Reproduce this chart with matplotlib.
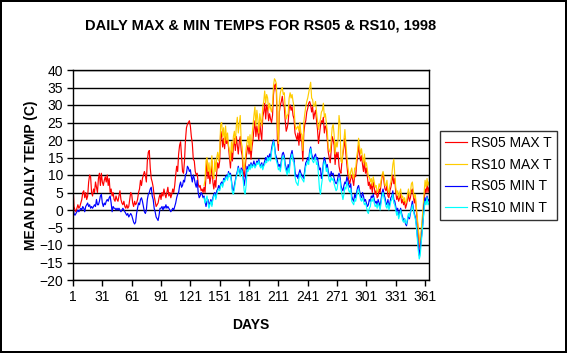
import numpy as np
import matplotlib
matplotlib.use("Agg")
import matplotlib.pyplot as plt

plt.rcParams['font.family'] = ['Liberation Sans', 'DejaVu Sans']

# ---------------- data ----------------
rs05_max = [
    7.5, 1, 0, -0.5, 0.5, 1.5, 0.5, 1, 2, 3,
    5, 5.5, 3.5, 5, 3, 4, 8, 10, 9.5, 5,
    4, 6, 5, 8, 6.5, 5, 9, 10.5, 7, 10.5,
    8, 7, 8.5, 9.5, 8, 10, 7, 9, 5, 6,
    4, 5, 3, 2.5, 4, 3, 2.5, 4, 5.5, 3,
    2, 1.5, 2.5, 1, 0.5, 1.5, 0.5, 1, 3, 5,
    4.5, 2, 1, 2.5, 1.5, 2, 3, 5, 6, 8.5,
    7, 9, 10, 11, 10, 8, 14, 16.5, 17, 12,
    9, 8, 6.5, 4, 2.5, 1, 1.5, 2, 3.5, 4.5,
    3, 5, 4, 6, 4.5, 3.5, 5, 6.5, 4, 5,
    3.5, 4.5, 6, 5, 7, 10, 12.5, 11, 16, 18.5,
    19.5, 15, 11, 10.5, 14, 20, 23.5, 24.5, 25, 25.5,
    24, 21, 19, 14.5, 14, 11, 10, 10.5, 7.5, 6.5,
    7, 5.5, 6, 5, 6.5, 5, 10, 14, 9, 11,
    7.5, 9.5, 14, 8, 6, 8.5, 6.5, 11, 13.5, 12,
    14, 22.5, 21, 18, 20.5, 17.5, 21, 19, 20, 18,
    15, 12, 17, 14, 18, 20.5, 17, 21, 18.5, 16,
    19.5, 21, 17, 15.5, 11, 9.5, 12, 15, 17, 18.5,
    16, 19, 14.5, 18, 20, 23, 25.5, 21, 24, 22,
    20, 25, 22, 20, 26.5, 28, 30.5, 26, 30, 29,
    25.5, 27.5, 26, 25, 27, 33, 35.5, 36, 33.5, 20,
    17, 28, 30, 31, 32.5, 30, 29.5, 25.5, 22.5, 23.5,
    25, 29, 30, 28.5, 29.5, 27, 26, 22, 21, 20,
    22, 18.5, 23, 20, 19.5, 14, 22, 24.5, 25.5, 28,
    29, 30.5, 31, 30, 28, 29.5, 26, 27.5, 28.5, 25.5,
    23, 19, 21.5, 24, 25.5, 25, 26.5, 22, 24, 23.5,
    20, 16.5, 15, 13.5, 17, 21, 20, 18.5, 13, 16.5,
    15, 16.5, 12.5, 11, 10.5, 14, 16, 18, 20.5, 16,
    13, 10, 8.5, 7.5, 9, 10, 8.5, 7, 10, 9.5,
    13, 15.5, 18.5, 16, 14, 15.5, 13, 11, 14, 10.5,
    12, 9.5, 7, 8, 6, 7.5, 5, 8, 6.5, 4.5,
    5.5, 3.5, 4, 6, 5, 7.5, 9.5, 10.5, 8, 6,
    5.5, 7, 4, 3.5, 5.5, 6.5, 8, 10, 7.5, 9,
    5, 3, 4, 2.5, 3.5, 4.5, 2, 3, 1.5, 2.5,
    0.5, 1.5, 3, 4.5, 2.5, 3.5, 5.5, 6, 4, 2,
    3.5, 0, -3, -6, -9.5, -11, -7, -4, -1, 2.5,
    6, 5, 7.5, 5, 6.5,
]

rs05_min = [
    1, -1, -1.5, -1, -0.5, 0, -0.5, 0, 0.5, 0,
    1, 0.5, -0.5, 1, 1.5, 2, 1, 1.5, 0.5, 1,
    0.5, 1, 1.5, 1, 3, 1.5, 1.5, 2.5, 4, 4.5,
    2, 1, 2, 1.5, 2.5, 3, 2.5, 3.5, 4, 2,
    -0.5, 1, 0.5, 0.5, 0, 0.5, 0, 0.5, 0, -0.5,
    0, 0.5, 0, -0.5, -1, -1.5, -1, -2, -1.5, -1,
    -1.5, -2.5, -3.5, -4, -3.5, -1, 0.5, 2, 1.5, 3,
    3.5, 2.5, 1, -0.5, -1, 0, 3, 4.5, 5, 6,
    6.5, 4, 3, 0.5, -0.5, -2, -2.5, -3, -1.5, 0.5,
    0.5, 1, 0, 1, 0.5, 1.5, 0.5, 1, 0.5, 0,
    -0.5, 0, 0.5, 0, 1, 2, 3.5, 4.5, 5, 7,
    8, 6.5, 7, 8.5, 8, 10, 10.5, 12.5, 12, 11,
    11.5, 9.5, 8, 10, 9, 7.5, 6.5, 8.5, 5, 3.5,
    4, 5, 4.5, 3.5, 4, 2.5, 1, 2.5, 3, 1.5,
    2, 3, 1.5, 3.5, 4.5, 5, 3.5, 5.5, 6, 7,
    6, 7.5, 8, 7, 9, 8.5, 9.5, 10, 9, 11,
    10, 10.5, 8.5, 6, 5.5, 7, 8.5, 10, 11, 12.5,
    11, 10, 12, 11.5, 9.5, 7, 9, 10.5, 12.5, 11.5,
    13, 12, 13.5, 12.5, 13, 14, 12.5, 13, 14, 13.5,
    14.5, 13, 12.5, 13.5, 12, 13, 14, 15, 14, 15.5,
    14.5, 16, 15, 17.5, 19, 20, 18.5, 16, 15, 14,
    12.5, 13, 12, 14, 16, 16.5, 15.5, 13, 12, 11,
    13, 11.5, 14.5, 16, 17, 15, 14.5, 11, 9.5, 10,
    9, 10.5, 11.5, 10.5, 10, 9.5, 9, 11.5, 13.5, 14,
    15, 14, 17, 18, 16, 15, 14.5, 15.5, 16, 14.5,
    15, 13, 11.5, 12, 9, 10.5, 13.5, 15, 14, 12,
    13, 11, 10, 9.5, 11, 10, 10.5, 9, 8, 7.5,
    8, 9.5, 10.5, 9.5, 7, 6, 5.5, 7, 8, 7.5,
    9.5, 8.5, 7, 6.5, 7.5, 4, 3, 2.5, 4.5, 3.5,
    5, 6.5, 7, 5.5, 4, 3.5, 5, 4, 2.5, 3,
    2, 1, 1.5, 3, 2.5, 4, 3.5, 4.5, 3, 2,
    2.5, 1.5, 3, 2, 1, 3, 5, 6, 4.5, 3.5,
    2, 1.5, 3, 1, 2, 3.5, 4, 5.5, 3, 2.5,
    1, -0.5, 0.5, -1.5, -0.5, 0.5, -1, -2, -3, -2.5,
    -4, -4.5, -3, -1.5, -2.5, -1, 1, 2.5, 0.5, -1,
    -2, -4, -7, -10, -13, -11, -8.5, -6, -3, 1.5,
    3.5, 2, 4, 2.5, 3,
]

rs10_first_day = 135
rs10_max = [
    7, 8.5, 14, 15, 11, 13.5,
    10, 12, 15.5, 10, 9, 14.5, 11, 15, 16.5, 14,
    17, 24.5, 25, 21, 23.5, 19, 24, 20, 22, 18.5,
    17, 14, 19.5, 16.5, 21, 22.5, 19, 24, 26.5, 22,
    24.5, 27, 19.5, 18, 13, 11.5, 14, 17.5, 19.5, 21,
    18, 21.5, 17, 21, 24, 27, 29.5, 24, 28.5, 26,
    22, 27.5, 25.5, 24, 29.5, 31, 34, 30.5, 33, 32,
    28.5, 30.5, 29, 28, 30, 35.5, 37.5, 37, 36, 24,
    19, 31, 33.5, 34.5, 35, 33, 33.5, 29, 26, 27,
    27.5, 32, 33.5, 32, 33, 31, 29.5, 24.5, 23, 23.5,
    24, 22.5, 25, 22, 21.5, 17, 25, 27.5, 29.5, 31,
    32, 33.5, 35, 36.5, 32, 31.5, 29.5, 30, 31, 28,
    25.5, 23, 24.5, 26, 28, 28.5, 30.5, 26.5, 27.5, 25,
    22.5, 18, 17, 16.5, 20, 23.5, 24.5, 21.5, 16, 19.5,
    18, 20, 27, 24.5, 14, 13.5, 17, 20, 23, 19,
    15.5, 12.5, 10.5, 9, 11, 12, 10, 9, 12, 11.5,
    15, 17, 20.5, 18, 16, 17.5, 15, 13.5, 16, 12.5,
    13.5, 11.5, 9.5, 9.5, 8, 9, 7, 9.5, 8, 6.5,
    7, 5, 5.5, 7.5, 6.5, 8.5, 10, 11, 9.5, 7,
    7, 8.5, 5.5, 5, 7, 8, 10, 13, 14.5, 10,
    6.5, 4.5, 5.5, 3.5, 5, 6, 3.5, 4, 2.5, 3.5,
    2, 2.5, 4.5, 6, 4, 5, 7.5, 8, 5.5, 3.5,
    4.5, 1, -2, -5, -8, -10, -6, -2.5, 1, 5,
    8.5, 6.5, 9, 7, 8,
]

rs10_min = [
    3.5, 2, 3, 4, 2, 0.5,
    1.5, 2.5, 1, 3, 4, 4.5, 3, 4.5, 5.5, 6,
    5.5, 7, 7.5, 6.5, 8.5, 8, 9, 9.5, 8.5, 10.5,
    9.5, 10, 8, 5, 4.5, 6, 8, 9.5, 10.5, 12,
    10.5, 9.5, 11.5, 11, 8.5, 5.5, 4.5, 7, 11.5, 11,
    12.5, 11.5, 13, 12, 12.5, 13, 12, 12.5, 13.5, 13,
    14, 12.5, 12, 13, 11.5, 12.5, 13, 14, 13.5, 15,
    14, 15, 14, 16.5, 18, 19.5, 18, 15, 14, 13,
    11.5, 12, 11, 13, 15, 15.5, 14.5, 12, 11, 10,
    12, 10.5, 13.5, 15, 16, 14, 13.5, 9.5, 8, 7.5,
    7, 9, 10.5, 9.5, 9, 8.5, 8, 10.5, 12.5, 13,
    14, 13, 16, 17.5, 15, 14, 13.5, 14.5, 15, 13,
    13.5, 10, 6, 4.5, 7, 9, 12.5, 14, 13, 11,
    12, 10, 8.5, 8, 9.5, 8.5, 9, 7.5, 6.5, 5.5,
    6, 8, 9, 8.5, 6, 4.5, 3, 4.5, 6.5, 6,
    8, 7, 5.5, 5, 6, 2.5, 2, 1.5, 3, 2.5,
    4, 5.5, 6, 4.5, 3, 2.5, 3.5, 2.5, 1.5, 2,
    1, -0.5, -1, 0.5, 1, 3, 2.5, 3.5, 2, 1,
    1.5, 0.5, 2, 1, 0, 2, 4, 5, 3.5, 2.5,
    1, 0.5, 2, 0, 1, 2.5, 3, 4.5, 2, 1.5,
    0, -1.5, -0.5, -2.5, -1.5, 0, -1.5, -3, -3.5, -2.5,
    -3.5, -4, -2.5, -1, -2, -0.5, 0, 1.5, 0, -1.5,
    -2.5, -4.5, -8, -11.5, -14, -13, -9.5, -6.5, -3, 0,
    2.5, 1.5, 3.5, 1.5, 2,
]

series_labels = ["RS05 MAX T", "RS10 MAX T", "RS05 MIN T", "RS10 MIN T"]
series_colors = ["#FF0000", "#FFCC00", "#0000FF", "#00FFFF"]
x_tick_days = [1, 31, 61, 91, 121, 151, 181, 211, 241, 271, 301, 331, 361]
y_ticks = list(range(-20, 45, 5))

days05 = np.arange(1, len(rs05_max) + 1)
days05b = np.arange(1, len(rs05_min) + 1)
days10 = np.arange(rs10_first_day, rs10_first_day + len(rs10_max))
days10b = np.arange(rs10_first_day, rs10_first_day + len(rs10_min))

# ---------------- figure ----------------
W, H = 567, 353
fig = plt.figure(figsize=(W / 100, H / 100), dpi=100)
fig.patch.set_facecolor("white")
fig.patch.set_edgecolor("black")
fig.patch.set_linewidth(1.5)

L, R, T, B = 73, 429, 70, 280
ax = fig.add_axes([L / W, 1 - B / H, (R - L) / W, (B - T) / H])

xs = [days05, days10, days05b, days10b]
ys = [rs05_max, rs10_max, rs05_min, rs10_min]
for x, y, c, lab in zip(xs, ys, series_colors, series_labels):
    ax.plot(x, y, color=c, lw=0.85, label=lab)

ax.set_xlim(1, 365)
ax.set_ylim(-20, 40)
ax.set_yticks(y_ticks)
ax.set_xticks(x_tick_days)
ax.set_xticklabels([str(d) for d in x_tick_days])
ax.yaxis.grid(True, color="black", lw=1.0)
ax.set_axisbelow(True)
for s in ax.spines.values():
    s.set_color("black")
    s.set_linewidth(1.0)
ax.tick_params(axis="both", direction="out", length=4, width=1, color="black",
               labelsize=10, pad=3)

ax.set_xlabel("DAYS", fontsize=10, fontweight="bold", labelpad=10)
ax.set_ylabel("MEAN DAILY TEMP (C)", fontsize=10, fontweight="bold", labelpad=1)

fig.text(261 / W, 1 - 26 / H, "DAILY MAX & MIN TEMPS FOR RS05 & RS10, 1998",
         ha="center", va="center", fontsize=10.5, fontweight="bold")

leg = fig.legend(loc="upper left", bbox_to_anchor=(440 / W, 1 - 131 / H),
                 frameon=True, fancybox=False, fontsize=10,
                 handlelength=1.6, handletextpad=0.3, labelspacing=0.56,
                 borderpad=0.35, borderaxespad=0)
leg.get_frame().set_edgecolor("black")
leg.get_frame().set_linewidth(1.0)

fig.savefig("out.png", dpi=100)
